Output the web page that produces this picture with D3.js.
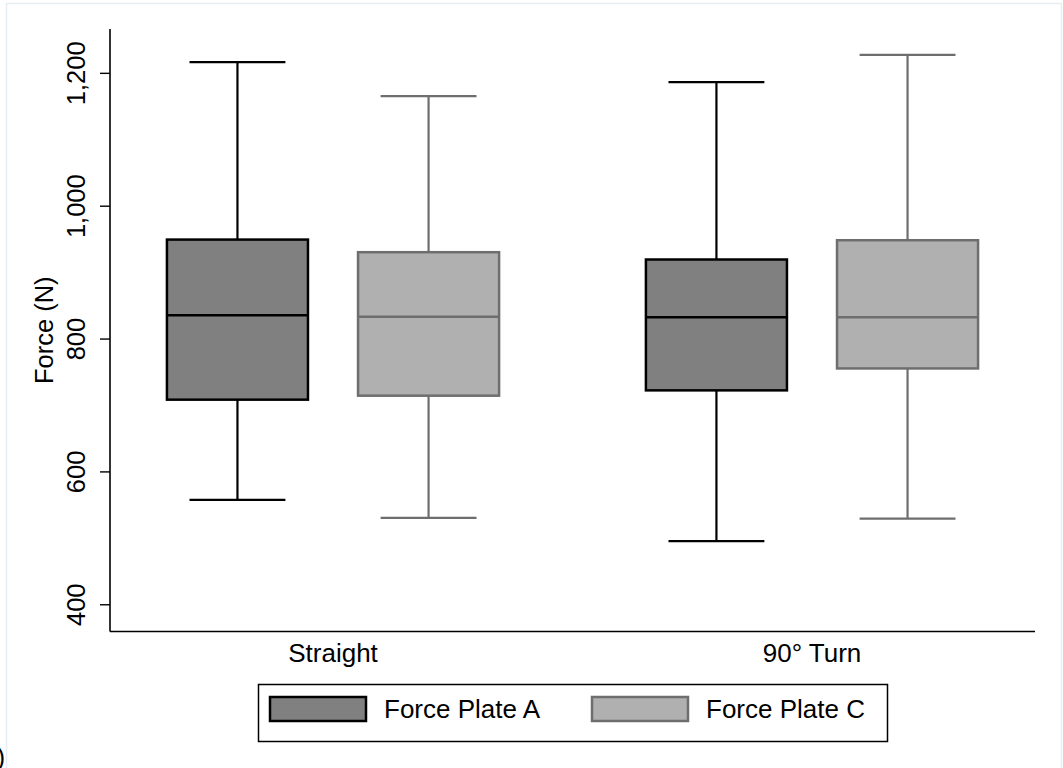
<!DOCTYPE html>
<html>
<head>
<meta charset="utf-8">
<script src="https://cdn.jsdelivr.net/npm/d3@7"></script>
<style>
  html, body { margin: 0; padding: 0; background: #fff; }
  svg { display: block; font-family: "Liberation Sans", Arial, Helvetica, sans-serif; }
</style>
</head>
<body>
<svg id="chart" width="1063" height="768"></svg>
<script>
// Groups along the x axis and the two force plates drawn in each group
const categories = ["Straight", "90\u00B0 Turn"];
const series = ["Force Plate A", "Force Plate C"];

// Box-plot summaries (N), one value per category
const plateA_lower  = [557, 495];
const plateA_q1     = [708, 722];
const plateA_median = [835, 832];
const plateA_q3     = [949, 919];
const plateA_upper  = [1216, 1186];

const plateC_lower  = [530, 529];
const plateC_q1     = [714, 755];
const plateC_median = [833, 832];
const plateC_q3     = [930, 948];
const plateC_upper  = [1165, 1227];

const yTicks = [400, 600, 800, 1000, 1200];
const yDomain = [359, 1266];

// Styling per series
const fills   = ["#808080", "#b0b0b0"];
const strokes = ["#000000", "#6e6e6e"];

const boxes = [
  { lower: plateA_lower, q1: plateA_q1, median: plateA_median, q3: plateA_q3, upper: plateA_upper },
  { lower: plateC_lower, q1: plateC_q1, median: plateC_median, q3: plateC_q3, upper: plateC_upper }
];

const svg = d3.select("#chart");
const margin = { left: 110, right: 28, top: 29, bottom: 136.5 };
const W = 1063, H = 768;
const plotLeft = margin.left, plotRight = W - margin.right;
const plotTop = margin.top, plotBottom = H - margin.bottom;

// Faint outer frame around the graph region
svg.append("rect")
  .attr("x", 6.5).attr("y", 3.5)
  .attr("width", 1055).attr("height", 820)
  .attr("fill", "none").attr("stroke", "#e6edf1").attr("stroke-width", 1.5);

const x0 = d3.scaleBand()
  .domain(categories)
  .range([plotLeft, plotRight])
  .paddingInner(0.2)
  .paddingOuter(0.0656);

const x1 = d3.scaleBand()
  .domain(series)
  .range([0, x0.bandwidth()])
  .paddingInner(0.262)
  .paddingOuter(0.1335);

const y = d3.scaleLinear().domain(yDomain).range([plotBottom, plotTop]);

// Boxes and whiskers
const g = svg.append("g");
series.forEach((s, si) => {
  const b = boxes[si];
  categories.forEach((c, ci) => {
    const left = x0(c) + x1(s);
    const w = x1.bandwidth();
    const cx = left + w / 2;
    const capHalf = w * 0.34;
    const grp = g.append("g")
      .attr("stroke", strokes[si]);

    // whisker stems
    grp.append("line")
      .attr("x1", cx).attr("x2", cx)
      .attr("y1", y(b.q3[ci])).attr("y2", y(b.upper[ci]))
      .attr("stroke-width", 2.2);
    grp.append("line")
      .attr("x1", cx).attr("x2", cx)
      .attr("y1", y(b.q1[ci])).attr("y2", y(b.lower[ci]))
      .attr("stroke-width", 2.2);
    // caps
    [b.upper[ci], b.lower[ci]].forEach(v => {
      grp.append("line")
        .attr("x1", cx - capHalf).attr("x2", cx + capHalf)
        .attr("y1", y(v)).attr("y2", y(v))
        .attr("stroke-width", 2.2);
    });
    // box
    grp.append("rect")
      .attr("x", left).attr("width", w)
      .attr("y", y(b.q3[ci]))
      .attr("height", y(b.q1[ci]) - y(b.q3[ci]))
      .attr("fill", fills[si])
      .attr("stroke-width", 2.5);
    // median
    grp.append("line")
      .attr("x1", left).attr("x2", left + w)
      .attr("y1", y(b.median[ci])).attr("y2", y(b.median[ci]))
      .attr("stroke-width", 2.5);
  });
});

// Y axis
const yAxis = d3.axisLeft(y)
  .tickValues(yTicks)
  .tickSize(10)
  .tickPadding(7)
  .tickFormat(d3.format(","));
const ya = svg.append("g")
  .attr("transform", `translate(${plotLeft},0)`)
  .call(yAxis);
ya.select(".domain").remove();
ya.append("line")
  .attr("x1", 0).attr("x2", 0)
  .attr("y1", plotTop).attr("y2", plotBottom)
  .attr("stroke", "#000").attr("stroke-width", 1.6);
ya.selectAll(".tick line").attr("stroke", "#000").attr("stroke-width", 1.4);
ya.selectAll(".tick text")
  .attr("fill", "#000")
  .attr("font-size", 25.5)
  .attr("text-anchor", "middle")
  .attr("dominant-baseline", "auto")
  .attr("x", null).attr("dy", null)
  .attr("transform", "translate(-25,0) rotate(-90)");

// X axis (no tick marks)
const xAxis = d3.axisBottom(x0).tickSize(0).tickPadding(0);
const xa = svg.append("g")
  .attr("transform", `translate(0,${plotBottom})`)
  .call(xAxis);
xa.select(".domain").remove();
xa.append("line")
  .attr("x1", plotLeft).attr("x2", plotRight)
  .attr("y1", 0).attr("y2", 0)
  .attr("stroke", "#000").attr("stroke-width", 1.6);
xa.selectAll(".tick text")
  .attr("fill", "#000")
  .attr("font-size", 26)
  .attr("dy", null)
  .attr("y", 30.5);

// Y axis title
svg.append("text")
  .attr("transform", `translate(53,${(plotTop + plotBottom) / 2}) rotate(-90)`)
  .attr("text-anchor", "middle")
  .attr("font-size", 25.5)
  .attr("fill", "#000")
  .text("Force (N)");

// Legend
const legend = svg.append("g");
legend.append("rect")
  .attr("x", 258.5).attr("y", 684.5)
  .attr("width", 629).attr("height", 57)
  .attr("fill", "#fff").attr("stroke", "#000").attr("stroke-width", 1.5);
const legendX = [270, 592];
series.forEach((s, si) => {
  legend.append("rect")
    .attr("x", legendX[si]).attr("y", 697)
    .attr("width", 96).attr("height", 24)
    .attr("fill", fills[si])
    .attr("stroke", strokes[si]).attr("stroke-width", 2.5);
  legend.append("text")
    .attr("x", legendX[si] + 114).attr("y", 718)
    .attr("font-size", 26)
    .attr("fill", "#000")
    .text(s);
});

// Panel letter at the lower-left corner
svg.append("text")
  .attr("x", 5).attr("y", 766)
  .attr("text-anchor", "end")
  .attr("font-size", 25)
  .attr("fill", "#000")
  .text("(a)");
</script>
</body>
</html>
